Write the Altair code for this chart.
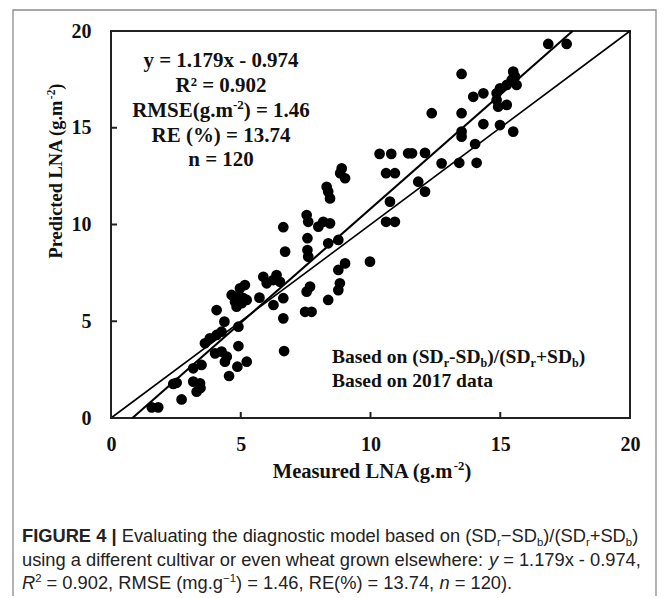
import os
import glob
import struct
import altair as alt
import pandas as pd

# ---------------- data ----------------
measured = [
    1.57, 1.82, 2.72, 2.40, 2.53, 3.17, 3.30, 3.43, 3.45, 3.17,
    3.49, 3.62, 3.81, 4.07, 4.26, 4.07, 4.37, 4.01, 4.26, 4.46,
    4.39, 4.55, 4.91, 4.91, 4.87, 5.23, 4.65, 4.78, 4.84, 4.97,
    5.16, 5.04, 5.23, 4.84, 5.10, 5.72, 5.87, 6.38, 6.00, 6.51,
    6.25, 6.26, 6.64, 6.64, 6.67, 6.64, 6.71, 7.48, 7.73, 7.67,
    7.54, 8.37, 8.82, 8.76, 9.02, 8.76, 9.98, 7.57, 7.60, 7.57,
    8.37, 8.76, 7.99, 8.18, 8.44, 7.54, 7.60, 8.31, 8.44, 8.37,
    8.89, 8.83, 9.02, 10.35, 10.80, 11.45, 11.60, 12.10, 10.60, 10.94,
    10.75, 10.60, 10.94, 11.84, 12.10, 12.74, 13.42, 14.09, 14.03, 13.51,
    13.51, 12.36, 13.51, 14.35, 14.99, 15.50, 14.86, 14.92, 15.25, 13.96,
    14.35, 15.50, 15.57, 15.44, 15.25, 14.99, 14.86, 15.63, 13.51, 16.85,
    17.56,
]
predicted = [
    0.55, 0.55, 0.96, 1.76, 1.82, 1.88, 1.36, 1.79, 1.55, 2.57,
    2.74, 3.86, 4.12, 4.29, 4.46, 5.58, 4.98, 3.34, 3.43, 3.17,
    2.91, 2.17, 3.72, 4.72, 2.65, 2.91, 6.36, 6.01, 5.75, 6.70,
    6.87, 5.93, 6.10, 6.27, 6.19, 6.22, 7.30, 7.39, 6.96, 7.04,
    7.13, 5.84, 6.19, 5.15, 3.46, 9.86, 8.60, 5.49, 5.49, 6.79,
    6.53, 6.10, 6.96, 6.61, 7.99, 7.65, 8.08, 8.68, 8.34, 9.29,
    9.03, 9.20, 9.89, 10.14, 10.06, 10.49, 10.14, 11.95, 11.35, 11.70,
    12.90, 12.65, 12.39, 13.65, 13.65, 13.68, 13.68, 13.70, 12.65, 12.65,
    11.18, 10.14, 10.14, 12.21, 11.70, 13.16, 13.19, 13.19, 14.16, 14.80,
    14.54, 15.75, 15.75, 15.19, 15.14, 14.80, 16.43, 16.09, 16.18, 16.60,
    16.78, 17.90, 17.64, 17.47, 17.21, 17.04, 16.78, 17.21, 17.78, 19.33,
    19.33,
]

SLOPE = 1.179
INTERCEPT = -0.974
AXIS_MIN, AXIS_MAX = 0, 20
AX_TICKS = [0, 5, 10, 15, 20]

# ---------------- layout ----------------
W, H = 519, 387          # plot area
OX, OY = 111, 31         # page position of plot origin
PAD = {"left": OX - 8, "top": OY - 8, "right": 669 - 16 - (OX - 8) - W, "bottom": 596 - OY - H}

# ---------------- font metrics (for placing mixed-style text runs) ----------------
FONT_DIRS = ["/usr/share/fonts", "/usr/local/share/fonts",
             os.path.expanduser("~/.fonts"), os.path.expanduser("~/.local/share/fonts")]


def find_font(name):
    for d in FONT_DIRS:
        hits = glob.glob(os.path.join(d, "**", name), recursive=True)
        if hits:
            return hits[0]
    return None


def parse_ttf(path):
    with open(path, "rb") as fh:
        data = fh.read()
    num = struct.unpack(">H", data[4:6])[0]
    tabs = {}
    for i in range(num):
        tag, _, off, _ln = struct.unpack(">4sIII", data[12 + 16 * i: 28 + 16 * i])
        tabs[tag.decode("latin-1")] = off
    upem = struct.unpack(">H", data[tabs["head"] + 18: tabs["head"] + 20])[0]
    nh = struct.unpack(">H", data[tabs["hhea"] + 34: tabs["hhea"] + 36])[0]
    ho = tabs["hmtx"]
    adv = [struct.unpack(">H", data[ho + 4 * i: ho + 4 * i + 2])[0] for i in range(nh)]
    co = tabs["cmap"]
    n = struct.unpack(">H", data[co + 2: co + 4])[0]
    sub = None
    for i in range(n):
        pid, eid, so = struct.unpack(">HHI", data[co + 4 + 8 * i: co + 12 + 8 * i])
        fmt = struct.unpack(">H", data[co + so: co + so + 2])[0]
        if fmt == 4 and (pid, eid) in ((3, 1), (0, 3), (0, 4), (0, 1)):
            if sub is None or (pid, eid) == (3, 1):
                sub = co + so
    seg2 = struct.unpack(">H", data[sub + 6: sub + 8])[0]
    sc = seg2 // 2
    ends = struct.unpack(">%dH" % sc, data[sub + 14: sub + 14 + seg2])
    starts = struct.unpack(">%dH" % sc, data[sub + 16 + seg2: sub + 16 + 2 * seg2])
    deltas = struct.unpack(">%dh" % sc, data[sub + 16 + 2 * seg2: sub + 16 + 3 * seg2])
    rpos = sub + 16 + 3 * seg2
    roffs = struct.unpack(">%dH" % sc, data[rpos: rpos + seg2])
    cache = {}

    def glyph(c):
        for i in range(sc):
            if ends[i] >= c:
                if starts[i] > c:
                    return 0
                if roffs[i] == 0:
                    return (c + deltas[i]) & 0xFFFF
                a = rpos + 2 * i + roffs[i] + 2 * (c - starts[i])
                g = struct.unpack(">H", data[a:a + 2])[0]
                return (g + deltas[i]) & 0xFFFF if g else 0
        return 0

    def adv_of(ch):
        if ch not in cache:
            g = glyph(ord(ch))
            cache[ch] = (adv[g] if g < nh else adv[-1]) / upem
        return cache[ch]
    return adv_of


narrow = find_font("LiberationSansNarrow-Regular.ttf") is not None
SANS = "Liberation Sans Narrow" if narrow else "Liberation Sans"
SANS_FILE = "LiberationSansNarrow" if narrow else "LiberationSans"
FONTS = {
    "sb": ("Liberation Serif", "bold", "normal", "LiberationSerif-Bold.ttf", 0.5),
    "nr": (SANS, "normal", "normal", SANS_FILE + "-Regular.ttf", 0.42 if narrow else 0.5),
    "nb": (SANS, "bold", "normal", SANS_FILE + "-Bold.ttf", 0.45 if narrow else 0.55),
    "ni": (SANS, "normal", "italic", SANS_FILE + "-Italic.ttf", 0.42 if narrow else 0.5),
}
METRICS = {}
for k, spec in FONTS.items():
    try:
        METRICS[k] = parse_ttf(find_font(spec[3]))
    except Exception:
        avg = spec[4]
        METRICS[k] = lambda ch, a=avg: a


def run_width(text, fk, size):
    return sum(METRICS[fk](ch) for ch in text) * size


SUBSCALE = 0.62


def unit_width(segs):
    return sum(run_width(t, fk, SUBSCALE if pos else 1.0) for t, fk, pos in segs)


ROWS = []


def place(segs, x, y, size, align="left", rotate=False):
    total = unit_width(segs) * size
    cur = -total / 2 if align == "center" else 0.0
    for t, fk, pos in segs:
        fs = size * (SUBSCALE if pos else 1.0)
        shift = {"": 0.0, "sub": 0.2 * size, "sup": -0.38 * size}[pos]
        lead = len(t) - len(t.lstrip(" "))
        start = cur + run_width(" " * lead, fk, fs)   # SVG drops leading spaces
        if rotate:
            px, py = x + shift, y - start
        else:
            px, py = x + start, y + shift
        ROWS.append({"t": t.strip(" "), "px": px - OX, "py": py - OY, "fk": fk,
                     "fs": round(fs, 2), "ang": 270 if rotate else 0})
        cur += run_width(t, fk, fs)


# ---------------- texts ----------------
EQ_LINES = [
    [("y = 1.179x - 0.974", "sb", "")],
    [("R² = 0.902", "sb", "")],
    [("RMSE(g.m", "sb", ""), ("-2", "sb", "sup"), (") = 1.46", "sb", "")],
    [("RE (%) = 13.74", "sb", "")],
    [("n = 120", "sb", "")],
]
EQ_BASE = [67, 92, 117, 142, 166]
eq_size = 185 / unit_width(EQ_LINES[2]) * 0.96
for segs, yb in zip(EQ_LINES, EQ_BASE):
    place(segs, 221, yb, eq_size, align="center")

NOTE_LINES = [
    [("Based on (SD", "sb", ""), ("r", "sb", "sub"), ("-SD", "sb", ""), ("b", "sb", "sub"),
     (")/(SD", "sb", ""), ("r", "sb", "sub"), ("+SD", "sb", ""), ("b", "sb", "sub"), (")", "sb", "")],
    [("Based on 2017 data", "sb", "")],
]
note_size = 175 / unit_width(NOTE_LINES[1]) * 0.92
place(NOTE_LINES[0], 332, 363, note_size)
place(NOTE_LINES[1], 332, 387, note_size)

X_TITLE = [("Measured LNA (g.m", "sb", ""), ("-2", "sb", "sup"), (")", "sb", "")]
Y_TITLE = [("Predicted LNA (g.m", "sb", ""), ("-2", "sb", "sup"), (")", "sb", "")]
place(X_TITLE, 372, 478, 209 / unit_width(X_TITLE) * 0.95, align="center")
place(Y_TITLE, 62, 171, 175 / unit_width(Y_TITLE), align="center", rotate=True)

CAPTION = [
    [("FIGURE 4 |", "nb", ""), (" Evaluating the diagnostic model based on (SD", "nr", ""),
     ("r", "nr", "sub"), ("−SD", "nr", ""), ("b", "nr", "sub"), (")/(SD", "nr", ""),
     ("r", "nr", "sub"), ("+SD", "nr", ""), ("b", "nr", "sub"), (")", "nr", "")],
    [("using a different cultivar or even wheat grown elsewhere: ", "nr", ""), ("y", "ni", ""),
     (" = 1.179x - 0.974,", "nr", "")],
    [("R", "ni", ""), ("2", "nr", "sup"), (" = 0.902, RMSE (mg.g", "nr", ""), ("−1", "nr", "sup"),
     (") = 1.46, RE(%) = 13.74, ", "nr", ""), ("n", "ni", ""), (" = 120).", "nr", "")],
]
CAP_BASE = [542, 566, 589]
cap_size = 619 / unit_width(CAPTION[1])
for segs, yb in zip(CAPTION, CAP_BASE):
    place(segs, 22, yb, cap_size)

text_df = pd.DataFrame(ROWS)

# ---------------- chart ----------------
xs = alt.Scale(domain=[AXIS_MIN, AXIS_MAX], nice=False, zero=False)
ys = alt.Scale(domain=[AXIS_MIN, AXIS_MAX], nice=False, zero=False)
ax_common = dict(values=AX_TICKS, labelFont="Liberation Serif", labelFontWeight="bold",
                 labelFontSize=20, labelColor="#111", ticks=False, tickSize=0, domain=False,
                 grid=False, title=None, labelFlush=False, labelOverlap=False)
xaxis = alt.Axis(labelPadding=16, **ax_common)
yaxis = alt.Axis(labelPadding=20, **ax_common)

pts = pd.DataFrame({"m": measured, "p": predicted})
scatter = alt.Chart(pts).mark_circle(size=115, color="black", opacity=1).encode(
    x=alt.X("m:Q", scale=xs, axis=xaxis), y=alt.Y("p:Q", scale=ys, axis=yaxis))

one_df = pd.DataFrame({"m": [AXIS_MIN, AXIS_MAX], "p": [AXIS_MIN, AXIS_MAX]})
one_line = alt.Chart(one_df).mark_line(color="black", strokeWidth=1.6).encode(
    x=alt.X("m:Q", scale=xs, axis=xaxis), y=alt.Y("p:Q", scale=ys, axis=yaxis))

reg_x = [(AXIS_MIN - INTERCEPT) / SLOPE, (AXIS_MAX - INTERCEPT) / SLOPE]
reg_df = pd.DataFrame({"m": reg_x, "p": [SLOPE * v + INTERCEPT for v in reg_x]})
reg_line = alt.Chart(reg_df).mark_line(color="black", strokeWidth=2.1).encode(
    x=alt.X("m:Q", scale=xs, axis=xaxis), y=alt.Y("p:Q", scale=ys, axis=yaxis))

tick_df = pd.DataFrame({"v": AX_TICKS})
xticks = alt.Chart(tick_df).mark_rule(color="#222", strokeWidth=2).encode(
    x=alt.X("v:Q", scale=xs, axis=xaxis), y=alt.value(H), y2=alt.value(H - 6))
yticks = alt.Chart(tick_df).mark_rule(color="#222", strokeWidth=2).encode(
    y=alt.Y("v:Q", scale=ys, axis=yaxis), x=alt.value(0), x2=alt.value(6))

border = alt.Chart(pd.DataFrame({"k": [0]})).mark_rect(
    fillOpacity=0, stroke="#8a8a8a", strokeWidth=1.3).encode(
    x=alt.value(13 - OX), x2=alt.value(656 - OX), y=alt.value(10 - OY), y2=alt.value(640 - OY))

text_layers = []
for (fk, fs, ang), sub in text_df.groupby(["fk", "fs", "ang"]):
    fam, weight, style, _f, _a = FONTS[fk]
    color = "#111" if fk == "sb" else "#222"
    text_layers.append(
        alt.Chart(sub.reset_index(drop=True)).mark_text(
            align="left", baseline="alphabetic", font=fam, fontWeight=weight,
            fontStyle=style, fontSize=float(fs), angle=int(ang), color=color).encode(
            x=alt.X("px:Q", scale=None, axis=None),
            y=alt.Y("py:Q", scale=None, axis=None),
            text="t:N"))

chart = alt.layer(border, one_line, reg_line, scatter, xticks, yticks, *text_layers).properties(
    width=W, height=H, padding=PAD, autosize=alt.AutoSizeParams(type="none"),
    background="white",
).configure_view(stroke="#222", strokeWidth=2)

chart.save("out.html", embed_options={"renderer": "svg", "actions": False})
